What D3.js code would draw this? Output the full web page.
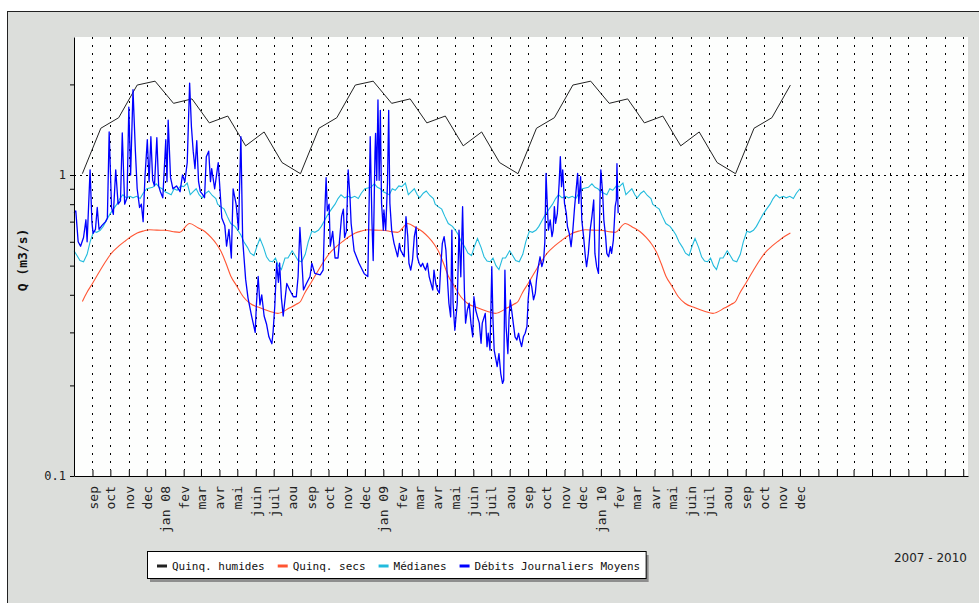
<!DOCTYPE html>
<html>
<head>
<meta charset="utf-8">
<script src="https://cdn.jsdelivr.net/npm/d3@7"></script>
<style>
  body { margin: 0; background: #fff; }
  svg { display: block; }
  text { font-family: "DejaVu Sans Mono", monospace; fill: #111; }
</style>
</head>
<body>
<svg width="979" height="603"></svg>
<script>
// Quinquennales humides, monthly (jan..dec), plotted mid-month
var humidesQ = [1.73, 1.79, 1.49, 1.57, 1.25, 1.39, 1.10, 1.01, 1.43, 1.55, 1.99, 2.05];

// Quinquennales seches, annual profile (month-day, value)
var secsMD = ["01-01","01-15","01-25","02-11","02-25","03-08","03-18","03-27","04-04","04-12","04-20","04-30",
  "05-11","05-22","06-08","06-25","07-08","07-28","08-08","08-15","08-22","09-01","09-12","09-22",
  "10-03","10-15","10-27","11-05","11-15","11-26","12-06","12-18"];
var secsQ = [0.655,0.648,0.645,0.69,0.668,0.648,0.62,0.59,0.556,0.509,0.462,0.428,
  0.394,0.375,0.362,0.352,0.347,0.362,0.372,0.38,0.405,0.436,0.475,0.512,
  0.55,0.58,0.606,0.625,0.642,0.652,0.658,0.656];

// Medianes, annual profile (month-day, value)
var medMD = ["01-01","01-06","01-11","01-16","01-21","01-27","02-01","02-07","02-12","02-17","02-22","02-27",
  "03-03","03-09","03-14","03-20","03-26","03-29","04-03","04-09","04-14","04-20","04-27","05-02","05-07",
  "05-12","05-18","05-23","05-29","06-03","06-08","06-14","06-19","06-24","06-29","07-04","07-09","07-14",
  "07-20","07-25","08-01","08-06","08-11","08-17","08-23","08-28","09-03","09-08","09-14","09-19","09-25",
  "09-30","10-06","10-12","10-17","10-22","10-28","11-03","11-08","11-14","11-20","11-25","12-01","12-06",
  "12-11","12-17","12-22","12-27"];
var medQ = [0.88,0.87,0.86,0.90,0.89,0.92,0.915,0.94,0.86,0.88,0.90,0.86,
  0.84,0.87,0.885,0.855,0.835,0.80,0.785,0.77,0.73,0.69,0.675,0.655,0.632,
  0.60,0.575,0.55,0.54,0.58,0.615,0.575,0.535,0.518,0.515,0.53,0.50,0.485,
  0.53,0.53,0.56,0.54,0.52,0.515,0.545,0.60,0.65,0.645,0.655,0.675,0.71,
  0.74,0.77,0.80,0.835,0.86,0.84,0.85,0.84,0.85,0.835,0.87,0.90,0.905,
  0.91,0.935,0.91,0.90];

// Debits journaliers moyens: days since 2007-08-01 and value
var debitJour = [0,3,7,11,16,20,22,27,30,32,36,39,42,47,53,56,59,63,66,70,74,78,81,85,89,92,95,99,103,106,
  110,113,116,119,123,126,129,132,135,139,142,145,149,154,156,158,162,166,172,178,182,186,190,194,197,200,
  203,206,209,212,216,219,222,226,229,231,236,242,248,253,256,260,264,267,272,276,280,283,288,292,298,304,
  306,309,312,315,319,323,327,332,334,337,340,343,345,348,351,357,362,368,373,376,379,382,385,390,396,399,
  404,413,418,421,423,425,428,430,434,438,443,449,452,454,457,460,463,465,470,478,487,493,495,497,500,502,
  505,506,508,510,512,514,516,519,520,523,526,528,530,533,537,540,543,546,548,551,554,557,560,562,565,568,
  571,574,576,579,582,585,587,590,593,596,599,602,604,607,610,613,615,618,621,624,627,629,632,634,636,639,
  643,646,649,652,655,657,660,663,666,669,671,674,677,680,683,685,690,693,695,698,701,703,705,708,710,713,
  716,719,721,723,725,728,730,732,735,737,740,743,746,748,751,754,757,760,762,765,768,771,774,776,779,782,
  785,788,790,792,794,796,799,802,804,806,808,811,814,816,818,820,823,826,828,831,834,837,840,842,845,847,
  850,852,855,858,860,863,866,869,872,874,877,880,883,884,887,889,892,894,897,900,902,905,908,910,911,913];
var debitQ = [0.75,0.76,0.60,0.58,0.62,0.71,0.60,1.04,0.70,0.64,0.66,0.78,0.66,0.68,0.70,0.72,1.39,0.78,0.74,1.04,
  0.80,0.82,1.38,0.80,0.84,1.68,1.0,1.92,1.20,0.90,0.78,0.80,0.70,0.98,1.31,0.95,1.34,0.96,0.92,1.33,
  0.92,0.88,0.84,1.31,0.95,1.52,0.98,0.90,0.92,0.88,1.0,0.95,1.1,2.02,1.45,1.2,1.05,1.3,0.95,0.88,
  0.86,0.84,1.15,1.2,0.95,1.05,0.90,1.10,0.72,0.68,0.58,0.66,0.53,0.90,0.80,0.66,1.34,0.61,0.45,0.39,
  0.34,0.30,0.37,0.46,0.37,0.40,0.34,0.32,0.29,0.275,0.30,0.37,0.51,0.44,0.51,0.39,0.34,0.436,0.415,0.394,
  0.394,0.46,0.67,0.53,0.415,0.436,0.46,0.509,0.471,0.466,0.483,0.77,0.98,0.76,0.80,0.58,0.65,0.53,0.53,0.73,
  0.77,0.62,0.65,1.04,0.85,0.69,0.56,0.51,0.47,0.46,0.765,1.34,0.69,0.52,1.18,1.375,0.96,1.775,0.96,1.64,
  0.805,0.656,0.765,0.656,0.938,1.64,0.805,0.656,0.593,0.563,0.535,0.593,0.563,0.549,0.535,0.727,0.624,0.509,0.483,0.522,
  0.624,0.673,0.535,0.509,0.496,0.509,0.496,0.483,0.509,0.459,0.436,0.415,0.483,0.436,0.415,0.405,0.483,0.593,0.624,0.563,
  0.436,0.375,0.338,0.656,0.375,0.305,0.375,0.656,0.459,0.785,0.415,0.322,0.356,0.375,0.322,0.290,0.394,0.356,0.338,0.322,
  0.276,0.322,0.347,0.269,0.298,0.262,0.496,0.330,0.262,0.243,0.231,0.255,0.219,0.203,0.208,0.483,0.314,0.255,0.338,0.385,
  0.347,0.322,0.290,0.283,0.298,0.283,0.269,0.290,0.298,0.314,0.385,0.448,0.426,0.385,0.405,0.448,0.496,0.535,0.496,0.522,
  0.600,1.013,0.805,0.656,0.709,0.624,0.656,0.785,0.691,0.746,0.938,1.15,0.915,1.04,0.805,0.746,0.673,0.640,0.578,0.656,
  0.785,0.869,1.013,0.805,0.987,0.709,0.624,0.535,0.496,0.549,0.656,0.727,0.826,0.549,0.496,0.471,0.915,1.04,0.869,0.709,
  0.624,0.549,0.535,0.578,0.549,0.608,0.785,0.826,1.09,0.746];

var moisLabels = ["jan","fev","mar","avr","mai","juin","juil","aou","sep","oct","nov","dec"];
var yTicks = [0.1,0.2,0.3,0.4,0.5,0.6,0.7,0.8,0.9,1,2];
var legendLabels = ["Quinq. humides","Quinq. secs","Médianes","Débits Journaliers Moyens"];
var colors = ["#222222","#ff5533","#22bbdd","#0000ff"];

var svg = d3.select("svg"),
  plotL = 74, plotR = 968, plotT = 37, plotB = 476;

var t0 = new Date(Date.UTC(2007, 7, 1));
var x = d3.scaleUtc().domain([t0, new Date(Date.UTC(2011, 8, 9))]).range([plotL, plotR]);
var y = d3.scaleLog().domain([0.1, 2.874]).range([plotB, plotT]);

function day(d) { return new Date(t0.getTime() + d * 864e5); }
function md(year, s) { var p = s.split("-"); return new Date(Date.UTC(year, +p[0] - 1, +p[1])); }
// repeat an annual profile over the years shown
function cycle(mds, vals, from, to) {
  var out = [];
  for (var yr = 2007; yr <= 2010; yr++) {
    mds.forEach(function(s, i) {
      var d = md(yr, s);
      if (d >= from && d <= to) out.push({ date: d, q: vals[i] });
    });
  }
  return out;
}

var humides = [];
for (var yr = 2007; yr <= 2010; yr++) {
  humidesQ.forEach(function(q, m) {
    var d = new Date(Date.UTC(yr, m, 15));
    if (d >= new Date(Date.UTC(2007, 7, 15)) && d <= new Date(Date.UTC(2010, 10, 15))) humides.push({ date: d, q: q });
  });
}
var secs = cycle(secsMD, secsQ, new Date(Date.UTC(2007, 7, 15)), new Date(Date.UTC(2010, 10, 15)));
var medianes = cycle(medMD, medQ, t0, new Date(Date.UTC(2010, 11, 1)));
var debits = debitJour.map(function(d, i) { return { date: day(d), q: debitQ[i] }; });

// grey panel + plot area
svg.append("rect").attr("x", 7.5).attr("y", 11.5).attr("width", 990).attr("height", 610)
  .attr("fill", "#dcdedb").attr("stroke", "#222");
svg.append("rect").attr("x", plotL).attr("y", plotT).attr("width", plotR - plotL).attr("height", plotB - plotT)
  .attr("fill", "#fdfefd");

var months = d3.utcMonth.range(new Date(Date.UTC(2007, 8, 1)), new Date(Date.UTC(2011, 8, 2)));
var lastLabel = new Date(Date.UTC(2010, 11, 1));

// dotted grid
svg.append("g").selectAll("line").data(months).enter().append("line")
  .attr("x1", function(d) { return Math.round(x(d)) + 0.5; })
  .attr("x2", function(d) { return Math.round(x(d)) + 0.5; })
  .attr("y1", plotT).attr("y2", plotB - 6)
  .attr("stroke", "#000").attr("stroke-dasharray", "2,6");
svg.append("line").attr("x1", plotL).attr("x2", plotR)
  .attr("y1", Math.round(y(1)) + 0.5).attr("y2", Math.round(y(1)) + 0.5)
  .attr("stroke", "#000").attr("stroke-dasharray", "2,4");

// series
var line = d3.line().x(function(d) { return x(d.date); }).y(function(d) { return y(d.q); });
svg.append("path").datum(humides).attr("d", line)
  .attr("fill", "none").attr("stroke", colors[0]).attr("stroke-width", 1);
svg.append("path").datum(secs).attr("d", line.curve(d3.curveMonotoneX))
  .attr("fill", "none").attr("stroke", colors[1]).attr("stroke-width", 1.1);
line.curve(d3.curveLinear);
svg.append("path").datum(medianes).attr("d", line)
  .attr("fill", "none").attr("stroke", colors[2]).attr("stroke-width", 1.1);
svg.append("path").datum(debits).attr("d", line)
  .attr("fill", "none").attr("stroke", colors[3]).attr("stroke-width", 1.3).attr("stroke-linejoin", "round");

// axes
var xAxis = d3.axisBottom(x).tickValues(months).tickSizeInner(-6).tickSizeOuter(0)
  .tickFormat(function(d) {
    if (d > lastLabel) return "";
    var m = d.getUTCMonth();
    return m === 0 ? moisLabels[0] + " " + d3.utcFormat("%y")(d) : moisLabels[m];
  });
var gx = svg.append("g").attr("transform", "translate(0," + plotB + ")").call(xAxis);
gx.selectAll("text")
  .attr("transform", "rotate(-90)")
  .attr("text-anchor", "end")
  .attr("x", -10).attr("y", 0).attr("dy", "0.35em")
  .style("font-family", "DejaVu Sans Mono, monospace").style("font-size", "13px").style("fill", "#222");

var yAxis = d3.axisLeft(y).tickValues(yTicks).tickSizeInner(4).tickSizeOuter(0)
  .tickFormat(function(d) { return d === 1 ? "1" : d === 0.1 ? "0.1" : ""; });
var gy = svg.append("g").attr("transform", "translate(" + plotL + ",0)").call(yAxis);
gy.selectAll("text").attr("x", -8)
  .style("font-family", "DejaVu Sans Mono, monospace").style("font-size", "12px").style("fill", "#222");
svg.selectAll(".domain, .tick line").attr("stroke", "#000");

svg.append("text")
  .attr("transform", "translate(27,260) rotate(-90)")
  .attr("text-anchor", "middle")
  .style("font-size", "13px").style("font-weight", "bold")
  .text("Q (m3/s)");

// legend
var lg = svg.append("g");
var shadow = lg.append("rect").attr("x", 150).attr("y", 555).attr("height", 27).attr("fill", "#8e8e8e");
var box = lg.append("rect").attr("x", 147.5).attr("y", 551.5).attr("height", 27).attr("fill", "#fff").attr("stroke", "#000");
var lx = 157;
legendLabels.forEach(function(lab, i) {
  lg.append("line").attr("x1", lx).attr("x2", lx + 10).attr("y1", 566).attr("y2", 566)
    .attr("stroke", colors[i]).attr("stroke-width", 3);
  var t = lg.append("text").attr("x", lx + 15).attr("y", 569.5).style("font-size", "11px").text(lab);
  lx += 15 + t.node().getComputedTextLength() + 13;
});
box.attr("width", lx - 13 + 6 - 147.5);
shadow.attr("width", lx - 13 + 6 - 147.5);

svg.append("text").attr("x", 967).attr("y", 562).attr("text-anchor", "end")
  .style("font-family", "DejaVu Sans, sans-serif").style("font-size", "12px").style("fill", "#222")
  .text("2007 - 2010");
</script>
</body>
</html>
